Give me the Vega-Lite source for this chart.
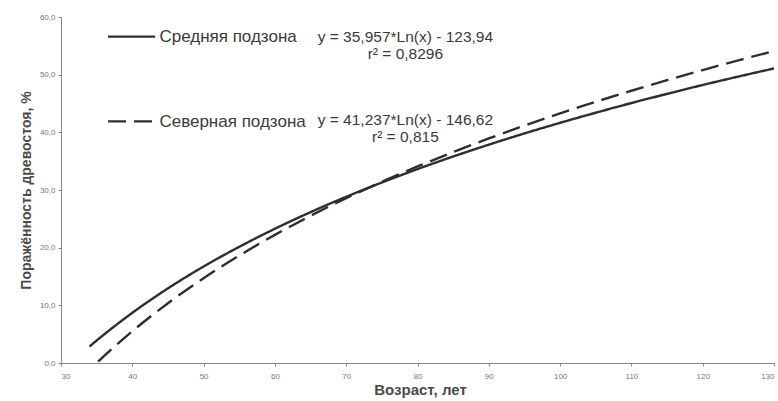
{
  "$schema": "https://vega.github.io/schema/vega-lite/v6.json",
  "width": 713,
  "height": 346,
  "autosize": {"type": "none"},
  "padding": {"left": 61, "top": 17, "right": 4, "bottom": 38},
  "background": "white",
  "config": {"view": {"stroke": null}, "font": "Liberation Sans"},
  "datasets": {
    "curves": [
      {"x": 34, "y": 2.86, "s": "Средняя подзона"},
      {"x": 35, "y": 3.90, "s": "Средняя подзона"},
      {"x": 40, "y": 8.70, "s": "Средняя подзона"},
      {"x": 45, "y": 12.94, "s": "Средняя подзона"},
      {"x": 50, "y": 16.73, "s": "Средняя подзона"},
      {"x": 55, "y": 20.15, "s": "Средняя подзона"},
      {"x": 60, "y": 23.28, "s": "Средняя подзона"},
      {"x": 65, "y": 26.16, "s": "Средняя подзона"},
      {"x": 70, "y": 28.82, "s": "Средняя подзона"},
      {"x": 75, "y": 31.30, "s": "Средняя подзона"},
      {"x": 80, "y": 33.63, "s": "Средняя подзона"},
      {"x": 85, "y": 35.81, "s": "Средняя подзона"},
      {"x": 90, "y": 37.86, "s": "Средняя подзона"},
      {"x": 95, "y": 39.81, "s": "Средняя подзона"},
      {"x": 100, "y": 41.65, "s": "Средняя подзона"},
      {"x": 105, "y": 43.40, "s": "Средняя подзона"},
      {"x": 110, "y": 45.08, "s": "Средняя подзона"},
      {"x": 115, "y": 46.67, "s": "Средняя подзона"},
      {"x": 120, "y": 48.21, "s": "Средняя подзона"},
      {"x": 125, "y": 49.67, "s": "Средняя подзона"},
      {"x": 130, "y": 51.08, "s": "Средняя подзона"},
      {"x": 35.2, "y": 0.23, "s": "Северная подзона"},
      {"x": 37.5, "y": 2.84, "s": "Северная подзона"},
      {"x": 40, "y": 5.50, "s": "Северная подзона"},
      {"x": 45, "y": 10.36, "s": "Северная подзона"},
      {"x": 50, "y": 14.70, "s": "Северная подзона"},
      {"x": 55, "y": 18.63, "s": "Северная подзона"},
      {"x": 60, "y": 22.22, "s": "Северная подзона"},
      {"x": 65, "y": 25.52, "s": "Северная подзона"},
      {"x": 70, "y": 28.58, "s": "Северная подзона"},
      {"x": 75, "y": 31.42, "s": "Северная подзона"},
      {"x": 80, "y": 34.08, "s": "Северная подзона"},
      {"x": 85, "y": 36.58, "s": "Северная подзона"},
      {"x": 90, "y": 38.94, "s": "Северная подзона"},
      {"x": 95, "y": 41.17, "s": "Северная подзона"},
      {"x": 100, "y": 43.28, "s": "Северная подзона"},
      {"x": 105, "y": 45.30, "s": "Северная подзона"},
      {"x": 110, "y": 47.21, "s": "Северная подзона"},
      {"x": 115, "y": 49.05, "s": "Северная подзона"},
      {"x": 120, "y": 50.80, "s": "Северная подзона"},
      {"x": 125, "y": 52.48, "s": "Северная подзона"},
      {"x": 130, "y": 54.10, "s": "Северная подзона"}
    ],
    "keys": [
      {"x": 36.6, "x2": 43.2, "y": 56.6, "s": "Средняя подзона"},
      {"x": 36.6, "x2": 43.2, "y": 41.9, "s": "Северная подзона"}
    ],
    "labels": [
      {"x": 43.8, "y": 56.5, "t": "Средняя подзона", "k": "name"},
      {"x": 43.8, "y": 41.8, "t": "Северная подзона", "k": "name"},
      {"x": 78.3, "y": 56.6, "t": "y = 35,957*Ln(x) - 123,94", "k": "eq"},
      {"x": 78.3, "y": 53.6, "t": "r² = 0,8296", "k": "eq"},
      {"x": 78.3, "y": 42.2, "t": "y = 41,237*Ln(x) - 146,62", "k": "eq"},
      {"x": 78.3, "y": 39.2, "t": "r² = 0,815", "k": "eq"}
    ]
  },
  "layer": [
    {
      "data": {"name": "curves"},
      "mark": {"type": "line", "strokeWidth": 2.4, "color": "#2e2e2e", "interpolate": "monotone"},
      "encoding": {
        "x": {
          "field": "x", "type": "quantitative",
          "scale": {"domain": [30, 130], "nice": false, "zero": false},
          "axis": {
            "values": [30, 40, 50, 60, 70, 80, 90, 100, 110, 120, 130],
            "title": "Возраст, лет",
            "titleFontSize": 15, "titleFontWeight": "bold", "titleColor": "#4a4a4a",
            "titlePadding": 2, "titleX": 359, "titleAnchor": "start", "titleAlign": "center",
            "labelFontSize": 8, "labelColor": "#777", "labelPadding": 6,
            "domainColor": "#888", "tickColor": "#888", "tickSize": 3, "grid": false
          }
        },
        "y": {
          "field": "y", "type": "quantitative",
          "scale": {"domain": [0, 60], "nice": false},
          "axis": {
            "values": [0, 10, 20, 30, 40, 50, 60],
            "labelExpr": "replace(format(datum.value, '.1f'), '.', ',')",
            "title": "Поражённость древостоя, %",
            "titleFontSize": 14, "titleFontWeight": "bold", "titleColor": "#4a4a4a",
            "titlePadding": 6,
            "labelFontSize": 8, "labelColor": "#777", "labelPadding": 3,
            "domainColor": "#888", "tickColor": "#888", "tickSize": 3, "grid": false
          }
        },
        "strokeDash": {
          "field": "s", "type": "nominal",
          "scale": {"domain": ["Средняя подзона", "Северная подзона"], "range": [[1, 0], [18, 8]]},
          "legend": null
        },
        "detail": {"field": "s"}
      }
    },
    {
      "data": {"name": "keys"},
      "mark": {"type": "rule", "strokeWidth": 2.4, "color": "#2e2e2e"},
      "encoding": {
        "x": {"field": "x", "type": "quantitative"},
        "x2": {"field": "x2"},
        "y": {"field": "y", "type": "quantitative"},
        "strokeDash": {
          "field": "s", "type": "nominal",
          "scale": {"domain": ["Средняя подзона", "Северная подзона"], "range": [[1, 0], [18, 8]]},
          "legend": null
        }
      }
    },
    {
      "data": {"name": "labels"},
      "transform": [{"filter": "datum.k == 'name'"}],
      "mark": {"type": "text", "align": "left", "baseline": "middle", "fontSize": 17, "color": "#3a3a3a"},
      "encoding": {
        "x": {"field": "x", "type": "quantitative"},
        "y": {"field": "y", "type": "quantitative"},
        "text": {"field": "t"}
      }
    },
    {
      "data": {"name": "labels"},
      "transform": [{"filter": "datum.k == 'eq'"}],
      "mark": {"type": "text", "align": "center", "baseline": "middle", "fontSize": 15.5, "color": "#3a3a3a"},
      "encoding": {
        "x": {"field": "x", "type": "quantitative"},
        "y": {"field": "y", "type": "quantitative"},
        "text": {"field": "t"}
      }
    }
  ]
}
